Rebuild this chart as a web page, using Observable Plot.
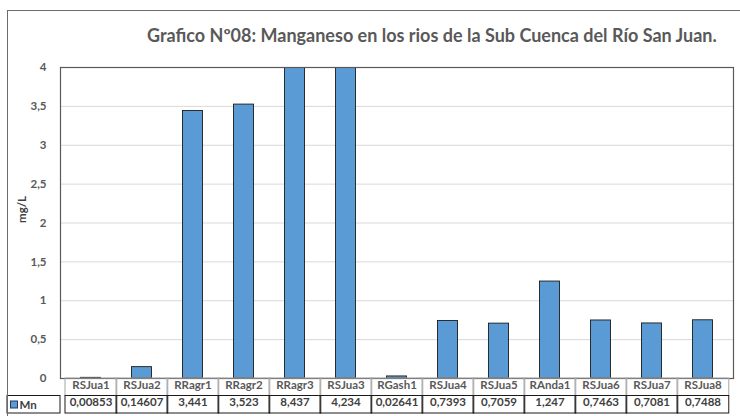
<!DOCTYPE html>
<html>
<head>
<meta charset="utf-8">
<script src="https://cdn.jsdelivr.net/npm/d3@7"></script>
<script src="https://cdn.jsdelivr.net/npm/@observablehq/plot@0.6"></script>
<style>
  html, body { margin: 0; padding: 0; background: #fff; }
  #wrap { position: relative; width: 740px; height: 416px; overflow: hidden; font-family: Lato, "Open Sans", sans-serif; }
  #border { position: absolute; left: 7px; top: 10px; width: 760px; height: 440px; border: 1px solid #6b6b6b; box-sizing: border-box; pointer-events: none; }
  #title { height: 55px; box-sizing: border-box; padding-top: 26px; padding-left: 147px; font-weight: bold; font-size: 18px; line-height: 18px; color: #595959; white-space: nowrap; }
  svg { display: block; }
</style>
</head>
<body>
<div id="wrap">
  <div id="title">Grafico Nº08: Manganeso en los rios de la Sub Cuenca del Río San Juan.</div>
  <div id="chart"></div>
  <div id="border"></div>
</div>
<script>
const categories = ["RSJua1","RSJua2","RRagr1","RRagr2","RRagr3","RSJua3","RGash1","RSJua4","RSJua5","RAnda1","RSJua6","RSJua7","RSJua8"];
const values = [0.00853, 0.14607, 3.441, 3.523, 8.437, 4.234, 0.02641, 0.7393, 0.7059, 1.247, 0.7463, 0.7081, 0.7488];
const valueLabels = ["0,00853","0,14607","3,441","3,523","8,437","4,234","0,02641","0,7393","0,7059","1,247","0,7463","0,7081","0,7488"];
const yTicks = [0, 0.5, 1, 1.5, 2, 2.5, 3, 3.5, 4];
const seriesName = "Mn";
const yLabel = "mg/L";

const data = categories.map((c, i) => ({cat: c, value: values[i], label: valueLabels[i]}));

const W = 740, H = 361, mL = 60, mR = 7, mT = 12, mB = 38;
const bw = (W - mL - mR) / categories.length;
const rowH = 17.5;
const blue = "#5B9BD5";
const fs = 11.5;

const fmt = d => String(d).replace(".", ",");

function tableMark(index, scales, values, dims) {
  const g = d3.create("svg:g");
  const x = scales.x;
  const y0 = dims.height - dims.marginBottom;
  for (const c of categories) {
    g.append("rect").attr("x", x(c)).attr("y", y0).attr("width", bw).attr("height", rowH)
      .attr("fill", "none").attr("stroke", "#a6a6a6").attr("stroke-width", 1);
  }
  for (const c of categories) {
    g.append("rect").attr("x", x(c)).attr("y", y0 + rowH).attr("width", bw).attr("height", rowH)
      .attr("fill", "none").attr("stroke", "#1a1a1a").attr("stroke-width", 1);
  }
  const lx = 7;
  g.append("rect").attr("x", lx).attr("y", y0 + rowH).attr("width", dims.marginLeft - lx).attr("height", rowH)
    .attr("fill", "none").attr("stroke", "#1a1a1a").attr("stroke-width", 1);
  g.append("rect").attr("x", 10.5).attr("y", y0 + rowH + 5.5).attr("width", 7).attr("height", 7)
    .attr("fill", blue).attr("stroke", "#1f3864").attr("stroke-width", 1);
  g.append("text").attr("x", 19.5).attr("y", y0 + rowH + rowH / 2 + 1).attr("dy", "0.35em")
    .attr("text-anchor", "start").attr("font-size", fs).attr("font-weight", "bold").attr("fill", "#404040").text(seriesName);
  return g.node();
}

const plot = Plot.plot({
  width: W,
  height: H,
  marginLeft: mL,
  marginRight: mR,
  marginTop: mT,
  marginBottom: mB,
  style: {fontFamily: "Lato, 'Open Sans', sans-serif", background: "transparent", overflow: "visible"},
  x: {type: "band", domain: categories, paddingInner: 0, paddingOuter: 0, axis: null},
  y: {domain: [0, 4], axis: null},
  marks: [
    Plot.gridY(yTicks, {stroke: "#d9d9d9", strokeOpacity: 1}),
    Plot.barY(data, {x: "cat", y: "value", fill: blue, stroke: "#1b1b1b", strokeWidth: 0.9, clip: true, insetLeft: bw * 0.3, insetRight: bw * 0.3}),
    Plot.frame({stroke: "#595959", strokeWidth: 1.2}),
    Plot.axisY(yTicks, {tickSize: 0, tickPadding: 14, tickFormat: fmt, fontSize: fs, fontWeight: "bold", fill: "#595959", label: null}),
    Plot.text([yLabel], {frameAnchor: "left", dx: -38, rotate: -90, fontSize: fs, fontWeight: "bold", fill: "#404040"}),
    tableMark,
    Plot.text(data, {x: "cat", text: "cat", frameAnchor: "bottom", dy: rowH / 2 + 1.5, fontSize: fs, fontWeight: "bold", fill: "#595959"}),
    Plot.text(data, {x: "cat", text: "label", frameAnchor: "bottom", dy: rowH * 1.5 + 1.5, fontSize: fs, fontWeight: "bold", fill: "#404040"})
  ]
});
document.getElementById("chart").appendChild(plot);
</script>
</body>
</html>
